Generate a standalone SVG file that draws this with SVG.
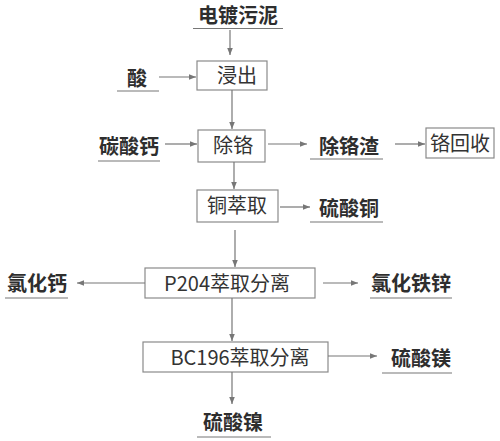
<svg xmlns="http://www.w3.org/2000/svg" width="500" height="441" viewBox="0 0 500 441">
<style>
.lbl{font-family:"Noto Sans CJK SC","Noto Sans",sans-serif;font-size:20px;font-weight:bold;fill:#2e2e2e;text-anchor:middle}
.box{fill:#fff;stroke:#8a8a8a;stroke-width:1.2}
.bt{font-family:"Noto Sans CJK SC","Noto Sans",sans-serif;font-size:20px;fill:#333;text-anchor:middle}
.ul{stroke:#777;stroke-width:1.2}
.ln{stroke:#777;stroke-width:1.2;fill:none;marker-end:url(#ah)}
</style>
<defs>
<marker id="ah" viewBox="0 0 10 10" refX="10" refY="5" markerWidth="7" markerHeight="7" markerUnits="userSpaceOnUse" orient="auto">
<path d="M0,1 L10,5 L0,9 Z" fill="#777"/>
</marker>
</defs>
<rect width="500" height="441" fill="#fff"/>
<g id="n-sludge"><text class="lbl" x="238" y="22.5">电镀污泥</text><line class="ul" x1="193" y1="28.5" x2="283" y2="28.5"/></g>
<g id="n-acid"><text class="lbl" x="137" y="86">酸</text><line class="ul" x1="117" y1="91" x2="159" y2="91"/></g>
<g id="n-leach"><rect class="box" x="197" y="61" width="70" height="29"/><text class="bt" x="237" y="83">浸出</text></g>
<g id="n-caco3"><text class="lbl" x="129" y="154">碳酸钙</text><line class="ul" x1="98" y1="161" x2="160" y2="161"/></g>
<g id="n-decr"><rect class="box" x="198" y="130" width="67" height="32"/><text class="bt" x="233" y="153">除铬</text></g>
<g id="n-crslag"><text class="lbl" x="349" y="154">除铬渣</text><line class="ul" x1="310" y1="159" x2="383" y2="159"/></g>
<g id="n-crrec"><rect class="box" x="426" y="128" width="68" height="30"/><text class="bt" x="460" y="151">铬回收</text></g>
<g id="n-cuext"><rect class="box" x="197" y="190" width="81" height="32"/><text class="bt" x="237" y="213">铜萃取</text></g>
<g id="n-cuso4"><text class="lbl" x="349" y="216">硫酸铜</text><line class="ul" x1="310" y1="222" x2="383" y2="222"/></g>
<g id="n-p204"><rect class="box" x="145" y="268" width="170" height="30"/><text class="bt" x="227" y="291">P204萃取分离</text></g>
<g id="n-cacl2"><text class="lbl" x="37" y="291">氯化钙</text><line class="ul" x1="5" y1="298" x2="68" y2="298"/></g>
<g id="n-fezn"><text class="lbl" x="411" y="291">氯化铁锌</text><line class="ul" x1="370" y1="298" x2="452" y2="298"/></g>
<g id="n-bc196"><rect class="box" x="143" y="342" width="185" height="30"/><text class="bt" x="240" y="365">BC196萃取分离</text></g>
<g id="n-mgso4"><text class="lbl" x="421" y="366">硫酸镁</text><line class="ul" x1="382" y1="373" x2="452" y2="373"/></g>
<g id="n-niso4"><text class="lbl" x="233" y="430">硫酸镍</text><line class="ul" x1="197" y1="437" x2="271" y2="437"/></g>
<g id="connectors">
<line class="ln" x1="230" y1="30" x2="230" y2="55"/>
<line class="ln" x1="159" y1="77" x2="196" y2="77"/>
<line class="ln" x1="232" y1="90" x2="232" y2="129"/>
<line class="ln" x1="165" y1="144" x2="197" y2="144"/>
<line class="ln" x1="268" y1="144" x2="307" y2="144"/>
<line class="ln" x1="395" y1="144" x2="425" y2="144"/>
<line class="ln" x1="234" y1="162" x2="234" y2="189"/>
<line class="ln" x1="280" y1="207" x2="310" y2="207"/>
<line class="ln" x1="235" y1="230" x2="235" y2="267"/>
<line class="ln" x1="145" y1="283" x2="77" y2="283"/>
<line class="ln" x1="323" y1="283" x2="358" y2="283"/>
<line class="ln" x1="232" y1="298" x2="232" y2="341"/>
<line class="ln" x1="328" y1="356" x2="377" y2="356"/>
<line class="ln" x1="232" y1="372" x2="232" y2="404"/>
</g>
</svg>
